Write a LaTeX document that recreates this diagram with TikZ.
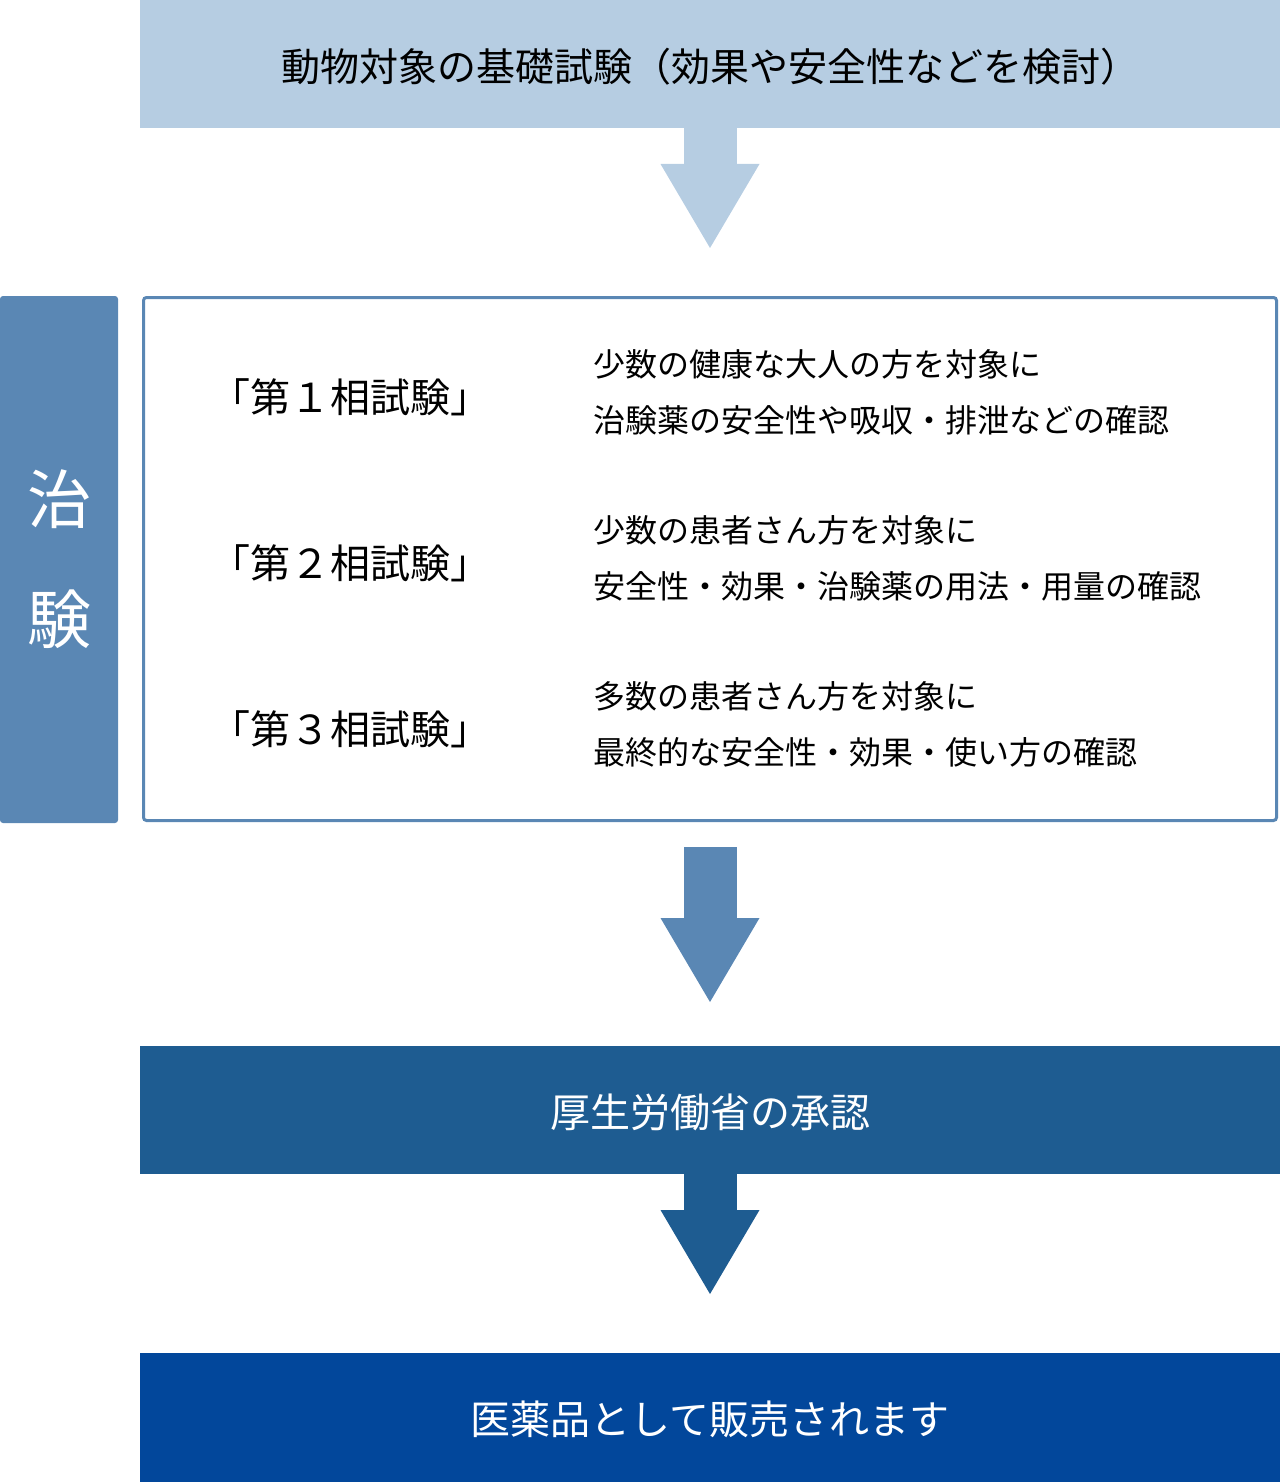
\documentclass[tikz,border=0pt]{standalone}
\usepackage{fontspec}
\setmainfont{Noto Sans CJK JP}
\usepackage{tikz}
\usetikzlibrary{arrows.meta,positioning}
\definecolor{paleblue}{HTML}{B6CDE2}
\definecolor{midblue}{HTML}{5A87B4}
\definecolor{approvalblue}{HTML}{1E5C91}
\definecolor{saleblue}{HTML}{02479B}
\newcommand{\lowered}[2]{\raisebox{-#1}[\height][\depth]{#2}}

\begin{document}
\begin{tikzpicture}[x=0.5pt,y=-0.5pt,
	box/.style={rectangle,minimum width=570pt,minimum height=64pt,inner sep=0pt,outer sep=0pt,font=\fontsize{20pt}{24pt}\selectfont},
	flow/.style={line width=26.5pt,draw=#1,-{Triangle[width=49.5pt,length=42pt,line width=0pt]}},
	phase/.style={inner sep=0pt,font=\fontsize{20pt}{24pt}\selectfont},
	desc/.style={anchor=west,align=left,inner sep=0pt,font=\fontsize{16pt}{28pt}\selectfont}]
	\useasboundingbox (0,0) rectangle (1280,1482);

	\node[box,fill=paleblue,font=\fontsize{19.5pt}{24pt}\selectfont] (A) at (710,64) {\lowered{1.5pt}{動物対象の基礎試験（効果や安全性などを検討）}};
	\node[draw=midblue,line width=1.5pt,rounded corners=1.5pt,minimum width=566.5pt,minimum height=261.5pt,outer sep=0pt] (B) at (710,559) {};
	\node[fill=midblue,text=white,rounded corners=1.5pt,minimum width=59pt,minimum height=263.5pt,inner sep=0pt,align=center,font=\fontsize{32pt}{60pt}\selectfont] (L) at (59,559.5) {治\\験};
	\node[box,fill=approvalblue,text=white] (C) at (710,1110) {\lowered{1pt}{厚生労働省の承認}};
	\node[box,fill=saleblue,text=white,minimum height=64.5pt] (D) at (710,1417.5) {\lowered{1pt}{医薬品として販売されます}};

	% the three phases
	\node[phase] (P1) at (350,397) {「第１相試験」};
	\node[phase] (P2) at (350,563) {「第２相試験」};
	\node[phase] (P3) at (350,729) {「第３相試験」};
	\node[desc] (D1) at (593,392) {少数の健康な大人の方を対象に\\治験薬の安全性や吸収・排泄などの確認};
	\node[desc] (D2) at (593,558) {少数の患者さん方を対象に\\安全性・効果・治験薬の用法・用量の確認};
	\node[desc] (D3) at (593,724) {多数の患者さん方を対象に\\最終的な安全性・効果・使い方の確認};

	\path (A) edge[flow=paleblue,shorten >=24.75pt] (B);
	\path (B) edge[flow=midblue,shorten <=13.25pt,shorten >=22pt] (C);
	\path (C) edge[flow=approvalblue,shorten >=29.5pt] (D);
\end{tikzpicture}
\end{document}
